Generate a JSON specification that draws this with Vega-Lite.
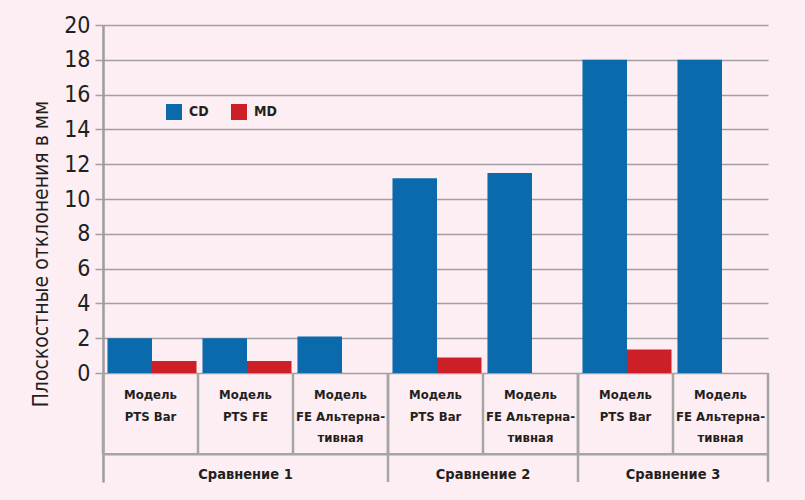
{
  "$schema": "https://vega.github.io/schema/vega-lite/v6.json",
  "width": 665,
  "height": 457,
  "autosize": {"type": "none"},
  "padding": {"left": 103, "top": 25, "right": 37, "bottom": 18},
  "background": "#fdeef3",
  "config": {"view": {"stroke": null}, "font": "DejaVu Sans Condensed, Liberation Sans Narrow, sans-serif"},
  "datasets": {
    "bars": [
      {"slot": "1", "series": "CD", "value": 2.0},
      {"slot": "1", "series": "MD", "value": 0.7},
      {"slot": "2", "series": "CD", "value": 2.0},
      {"slot": "2", "series": "MD", "value": 0.7},
      {"slot": "3", "series": "CD", "value": 2.1},
      {"slot": "4", "series": "CD", "value": 11.2},
      {"slot": "4", "series": "MD", "value": 0.9},
      {"slot": "5", "series": "CD", "value": 11.5},
      {"slot": "6", "series": "CD", "value": 18.0},
      {"slot": "6", "series": "MD", "value": 1.35},
      {"slot": "7", "series": "CD", "value": 18.0}
    ],
    "slots": [
      {"slot": "1", "group": "Сравнение 1", "model": "Модель\nPTS Bar"},
      {"slot": "2", "group": "Сравнение 1", "model": "Модель\nPTS FE"},
      {"slot": "3", "group": "Сравнение 1", "model": "Модель\nFE Альтерна-\nтивная"},
      {"slot": "4", "group": "Сравнение 2", "model": "Модель\nPTS Bar"},
      {"slot": "5", "group": "Сравнение 2", "model": "Модель\nFE Альтерна-\nтивная"},
      {"slot": "6", "group": "Сравнение 3", "model": "Модель\nPTS Bar"},
      {"slot": "7", "group": "Сравнение 3", "model": "Модель\nFE Альтерна-\nтивная"}
    ],
    "groups": [
      {"group": "Сравнение 1", "first": "1", "last": "3", "labelSlot": "2"},
      {"group": "Сравнение 2", "first": "4", "last": "5", "labelSlot": "5"},
      {"group": "Сравнение 3", "first": "6", "last": "7", "labelSlot": "7"}
    ]
  },
  "layer": [
    {
      "data": {"name": "bars"},
      "mark": {"type": "bar"},
      "encoding": {
        "x": {"field": "slot", "type": "nominal", "scale": {"domain": ["1", "2", "3", "4", "5", "6", "7"], "paddingInner": 0, "paddingOuter": 0}, "axis": null},
        "xOffset": {"field": "series", "type": "nominal", "scale": {"domain": ["CD", "MD"], "paddingInner": 0, "paddingOuter": 0.067, "align": 0.75}},
        "y": {
          "field": "value", "type": "quantitative",
          "scale": {"domain": [-6.26, 20], "nice": false, "zero": false},
          "axis": {
            "values": [0, 2, 4, 6, 8, 10, 12, 14, 16, 18, 20],
            "title": "Плоскостные отклонения в мм",
            "grid": true, "gridColor": "#a39ea1", "gridWidth": 1.5,
            "tickColor": "#a39ea1", "tickWidth": 1.5, "tickSize": 8,
            "domainColor": "#9c9c9c", "domainWidth": 2.5,
            "labelFontSize": 23, "labelColor": "#231f20", "labelPadding": 5,
            "titleFontSize": 21, "titleFontWeight": "normal", "titleColor": "#231f20", "titlePadding": 12
          }
        },
        "y2": {"datum": 0},
        "color": {
          "field": "series", "type": "nominal",
          "scale": {"domain": ["CD", "MD"], "range": ["#0b6aab", "#cc1f27"]},
          "legend": {
            "orient": "none", "legendX": 63, "legendY": 79, "direction": "horizontal",
            "title": null, "symbolType": "square", "symbolSize": 256, "symbolStrokeWidth": 0,
            "labelFontSize": 14, "labelFontWeight": "bold", "labelColor": "#231f20",
            "labelOffset": 7, "columnPadding": 22
          }
        }
      }
    },
    {
      "data": {"name": "slots"},
      "mark": {"type": "rule", "color": "#a5a5a5", "strokeWidth": 2.5},
      "encoding": {
        "x": {"field": "slot", "type": "nominal", "bandPosition": 0},
        "y": {"datum": 0},
        "y2": {"datum": -4.66}
      }
    },
    {
      "data": {"name": "groups"},
      "mark": {"type": "rule", "color": "#a5a5a5", "strokeWidth": 2.5},
      "encoding": {
        "x": {"field": "last", "type": "nominal", "bandPosition": 1},
        "y": {"datum": 0},
        "y2": {"datum": -6.26}
      }
    },
    {
      "data": {"values": [{}]},
      "mark": {"type": "rule", "color": "#a5a5a5", "strokeWidth": 2.5},
      "encoding": {"y": {"datum": -4.66}}
    },
    {
      "data": {"name": "slots"},
      "mark": {"type": "text", "lineBreak": "\n", "baseline": "top", "fontWeight": "bold", "fontSize": 13, "lineHeight": 21.5, "color": "#231f20"},
      "encoding": {
        "x": {"field": "slot", "type": "nominal"},
        "y": {"datum": -0.92},
        "text": {"field": "model"}
      }
    },
    {
      "data": {"name": "groups"},
      "transform": [{"filter": "datum.first == '1'"}],
      "mark": {"type": "text", "baseline": "middle", "fontWeight": "bold", "fontSize": 14.5, "color": "#231f20"},
      "encoding": {
        "x": {"field": "labelSlot", "type": "nominal", "bandPosition": 0.5},
        "y": {"datum": -5.86},
        "text": {"field": "group"}
      }
    },
    {
      "data": {"name": "groups"},
      "transform": [{"filter": "datum.first != '1'"}],
      "mark": {"type": "text", "baseline": "middle", "fontWeight": "bold", "fontSize": 14.5, "color": "#231f20"},
      "encoding": {
        "x": {"field": "labelSlot", "type": "nominal", "bandPosition": 0},
        "y": {"datum": -5.86},
        "text": {"field": "group"}
      }
    }
  ]
}
